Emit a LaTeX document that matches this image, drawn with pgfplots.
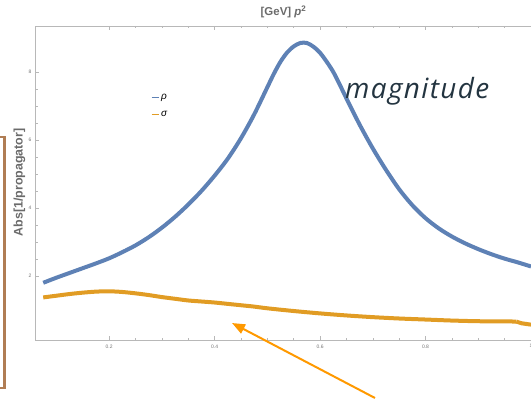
\documentclass[border=0pt]{standalone}
\usepackage{fontspec}
\setmainfont{Liberation Sans}
\newfontfamily\opensans[LetterSpace=5]{Open Sans}
\usepackage{pgfplots}
\pgfplotsset{compat=1.18}
\usetikzlibrary{arrows.meta}
\definecolor{mblue}{rgb}{0.368417,0.506779,0.709798}
\definecolor{morange}{rgb}{0.880722,0.611041,0.142051}
\definecolor{lblgray}{gray}{0.42}
\definecolor{tickgray}{gray}{0.45}
\definecolor{axgray}{gray}{0.72}
\definecolor{brownbr}{RGB}{176,125,84}
\definecolor{arrorange}{RGB}{255,153,0}
\definecolor{magcol}{RGB}{35,52,64}
\begin{document}
\begin{tikzpicture}[x=1bp,y=1bp]
\useasboundingbox (0,0) rectangle (531,401);
\begin{axis}[
  at={(35bp,61bp)}, anchor=south west,
  scale only axis, width=496bp, height=314bp,
  xmin=0.0594, xmax=1.0, ymin=0.118, ymax=9.35,
  axis x line*=box, axis y line*=left,
  xtick={0.2,0.4,0.6,0.8,1.0}, minor x tick num=3,
  ytick={2,4,6,8}, minor y tick num=3,
  xtick pos=both, xticklabel pos=bottom,
  tick align=inside,
  major tick length=4bp, minor tick length=2.5bp,
  every tick/.style={axgray, line width=0.5bp},
  axis line style={axgray, line width=0.7bp},
  ticklabel style={font=\fontsize{5}{6}\selectfont, text=tickgray},
  xticklabel style={yshift=-1bp},
  /pgf/number format/assume math mode=true,
  legend style={at={(axis description cs:0.234,0.79)}, anchor=north west, draw=none, fill=none,
    inner sep=0pt, row sep=6bp, font=\fontsize{10}{11}\selectfont},
  legend cell align=left,
  legend image code/.code={\draw[#1, line width=0.8bp] (0bp,0bp) -- (7bp,0bp);},
]
\addplot[mblue, line width=4bp, smooth, tension=0.5] coordinates {
(0.075,1.80) (0.100,1.95) (0.125,2.09) (0.150,2.23) (0.175,2.37) (0.200,2.52)
(0.225,2.70) (0.250,2.90) (0.275,3.14) (0.300,3.42) (0.325,3.74) (0.350,4.10)
(0.375,4.50) (0.400,4.95) (0.425,5.45) (0.450,6.05) (0.475,6.75) (0.500,7.55)
(0.5125,7.95) (0.525,8.30) (0.5375,8.57) (0.550,8.75) (0.5625,8.85) (0.575,8.85)
(0.5875,8.74) (0.600,8.56) (0.6125,8.30) (0.625,8.00) (0.6375,7.62) (0.650,7.22)
(0.675,6.45) (0.700,5.75) (0.725,5.12) (0.750,4.55) (0.775,4.08)
(0.800,3.70) (0.825,3.40) (0.850,3.16) (0.875,2.96) (0.900,2.79) (0.925,2.64)
(0.950,2.51) (0.975,2.40) (1.000,2.28)
};
\addlegendentry{\textit{ρ}}
\addplot[morange, line width=4bp, smooth, tension=0.5] coordinates {
(0.075,1.37) (0.100,1.42) (0.125,1.47) (0.150,1.51) (0.175,1.54) (0.200,1.55)
(0.225,1.53) (0.250,1.49) (0.275,1.44) (0.300,1.38) (0.325,1.33) (0.350,1.28)
(0.375,1.25) (0.400,1.22) (0.425,1.18) (0.450,1.14) (0.475,1.10) (0.500,1.05)
(0.550,0.97) (0.600,0.90) (0.650,0.84) (0.700,0.79) (0.750,0.75) (0.800,0.72)
(0.850,0.69) (0.900,0.67) (0.950,0.665) (0.972,0.66)
};
\addlegendentry{\textit{σ}}
\addplot[morange, line width=4bp, line join=round, forget plot] coordinates {
(0.972,0.66) (0.982,0.61) (1.000,0.57)
};
\end{axis}
\node[font=\bfseries\fontsize{11.5}{12}\selectfont, text=lblgray] at (283.5,389) {[GeV] \textit{p}\textsuperscript{2}};
\node[rotate=90, font=\bfseries\fontsize{12.5}{13}\selectfont, text=lblgray] at (19.5,218.5) {Abs[1/propagator]};
\node[anchor=base west, font=\opensans\itshape\fontsize{28}{32}\selectfont, text=magcol, inner sep=0pt] at (345,302.7) {magnitude};
\draw[brownbr, line width=2.5bp] (0,264) -- (4.5,264) -- (4.5,13) -- (0,13);
\draw[arrorange, line width=2bp, -{Triangle[length=13bp,width=10bp]}] (375,3) -- (232,78);
\end{tikzpicture}
\end{document}
